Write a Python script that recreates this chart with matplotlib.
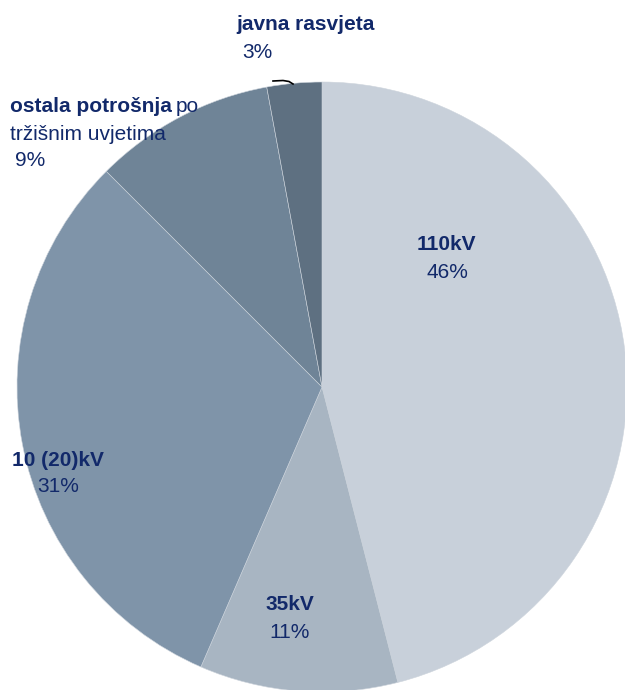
import matplotlib
matplotlib.use("Agg")
import matplotlib.pyplot as plt

labels = ["110kV", "35kV", "10 (20)kV", "ostala potrošnja", "javna rasvjeta"]
shares = [46.0, 10.5, 31.0, 9.6, 2.9]
share_labels = ["46%", "11%", "31%", "9%", "3%"]
colors = ["#C8D0DA", "#A8B5C2", "#7F94A9", "#6F8497", "#5E7081"]

plt.rcParams["font.family"] = ["Liberation Sans Narrow", "Liberation Sans", "DejaVu Sans"]
navy = "#12296A"

fig = plt.figure(figsize=(6.25, 6.9), dpi=100)
ax = fig.add_axes([0, 0, 1, 1])

# pie center/radius in pixel coords (y axis inverted, so -90 is the top)
ax.pie(shares, colors=colors, startangle=-90, counterclock=True,
       center=(322, 387), radius=305,
       wedgeprops=dict(edgecolor="#CDD4DC", linewidth=0.4))
ax.set_xlim(0, 625)
ax.set_ylim(690, 0)
ax.set_aspect("equal")
ax.axis("off")

fs = 15
# 110kV
ax.text(446, 245, labels[0], ha="center", va="center", fontsize=fs, fontweight="bold", color=navy)
ax.text(447, 272, share_labels[0], ha="center", va="center", fontsize=fs, color=navy)
# 35kV
ax.text(290, 605, labels[1], ha="center", va="center", fontsize=fs, fontweight="bold", color=navy)
ax.text(290, 632, share_labels[1], ha="center", va="center", fontsize=fs, color=navy)
# 10 (20)kV
ax.text(12, 460, labels[2], ha="left", va="center", fontsize=fs, fontweight="bold", color=navy)
ax.text(37, 487, share_labels[2], ha="left", va="center", fontsize=fs, color=navy)
# ostala potrosnja
t = ax.text(10, 107, labels[3], ha="left", va="center", fontsize=fs, fontweight="bold", color=navy)
ax.annotate("po", xy=(1, 0.5), xycoords=t, xytext=(3, 0), textcoords="offset points",
            ha="left", va="center", fontsize=fs, color=navy)
ax.text(10, 134, "tržišnim uvjetima", ha="left", va="center", fontsize=fs, color=navy)
ax.text(15, 161, share_labels[3], ha="left", va="center", fontsize=fs, color=navy)
# javna rasvjeta
ax.text(236, 25, labels[4], ha="left", va="center", fontsize=fs, fontweight="bold", color=navy)
ax.text(242, 53, share_labels[4], ha="left", va="center", fontsize=fs, color=navy)
ax.plot([273, 283, 289, 293], [81, 80.5, 81.5, 84], color="black", linewidth=1.2)

fig.savefig("out.png", dpi=100)
